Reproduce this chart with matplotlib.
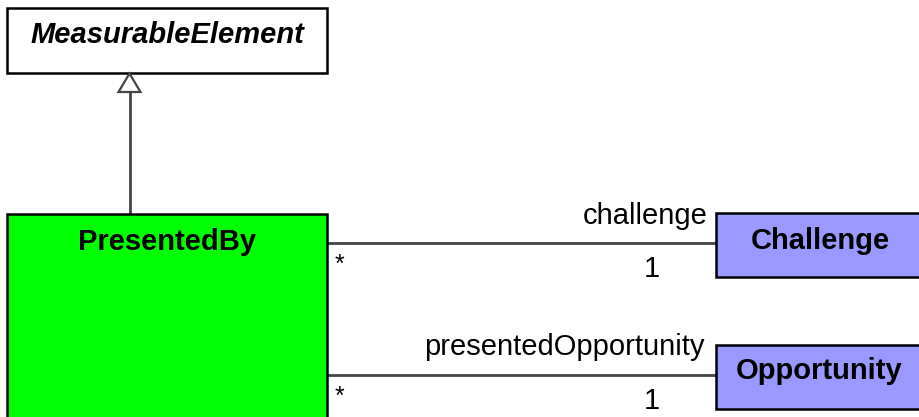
import matplotlib
matplotlib.use("Agg")
import matplotlib.pyplot as plt
from matplotlib.patches import Rectangle, Polygon

plt.rcParams['font.family'] = ['Liberation Sans', 'DejaVu Sans']

# --- diagram content ---
class_names = ["MeasurableElement", "PresentedBy", "Challenge", "Opportunity"]
class_colors = ["#FFFFFF", "#00FF00", "#9999FF", "#9999FF"]
role_names = ["challenge", "presentedOpportunity"]
source_mult = ["*", "*"]
target_mult = ["1", "1"]

W, H = 919, 417
fig = plt.figure(figsize=(W / 100, H / 100), dpi=100)
ax = fig.add_axes([0, 0, 1, 1])
ax.set_xlim(0, W)
ax.set_ylim(H, 0)
ax.axis('off')

# box geometry (pixel space): x, y, w, h
boxes = [(7, 8, 320, 65), (7, 214, 320, 220), (716, 213, 210, 64), (716, 345, 210, 64)]
fs = 21
line_col = "#444444"

for (x, y, w, h), name, col in zip(boxes, class_names, class_colors):
    ax.add_patch(Rectangle((x, y), w, h, facecolor=col, edgecolor="black", lw=1.8, zorder=2))

# class names
ax.text(167, 35, class_names[0], ha='center', va='center', fontsize=fs,
        fontweight='bold', fontstyle='italic', zorder=3)
ax.text(167, 242, class_names[1], ha='center', va='center', fontsize=fs,
        fontweight='bold', zorder=3)
ax.text(820, 241, class_names[2], ha='center', va='center', fontsize=fs,
        fontweight='bold', zorder=3)
ax.text(819, 371, class_names[3], ha='center', va='center', fontsize=fs,
        fontweight='bold', zorder=3)

# generalization
ax.plot([129.5, 129.5], [92, 214], color=line_col, lw=2, zorder=1)
ax.add_patch(Polygon([(129.5, 73.5), (118.5, 92), (140.5, 92)], closed=True,
                     facecolor="white", edgecolor=line_col, lw=1.6, zorder=3))

# associations
assoc_y = [243, 375]
role_y = [216, 347]
role_x = [708, 705]
for i, yy in enumerate(assoc_y):
    ax.plot([327, 716], [yy, yy], color=line_col, lw=2, zorder=1)
    ax.text(role_x[i], role_y[i], role_names[i], ha='right', va='center', fontsize=fs, zorder=3)
    ax.text(335, yy + 22, source_mult[i], ha='left', va='center', fontsize=fs * 0.85, zorder=3)
    ax.text(652, yy + 26, target_mult[i], ha='center', va='center', fontsize=fs, zorder=3)

fig.savefig("out.png", dpi=100, facecolor="white")
